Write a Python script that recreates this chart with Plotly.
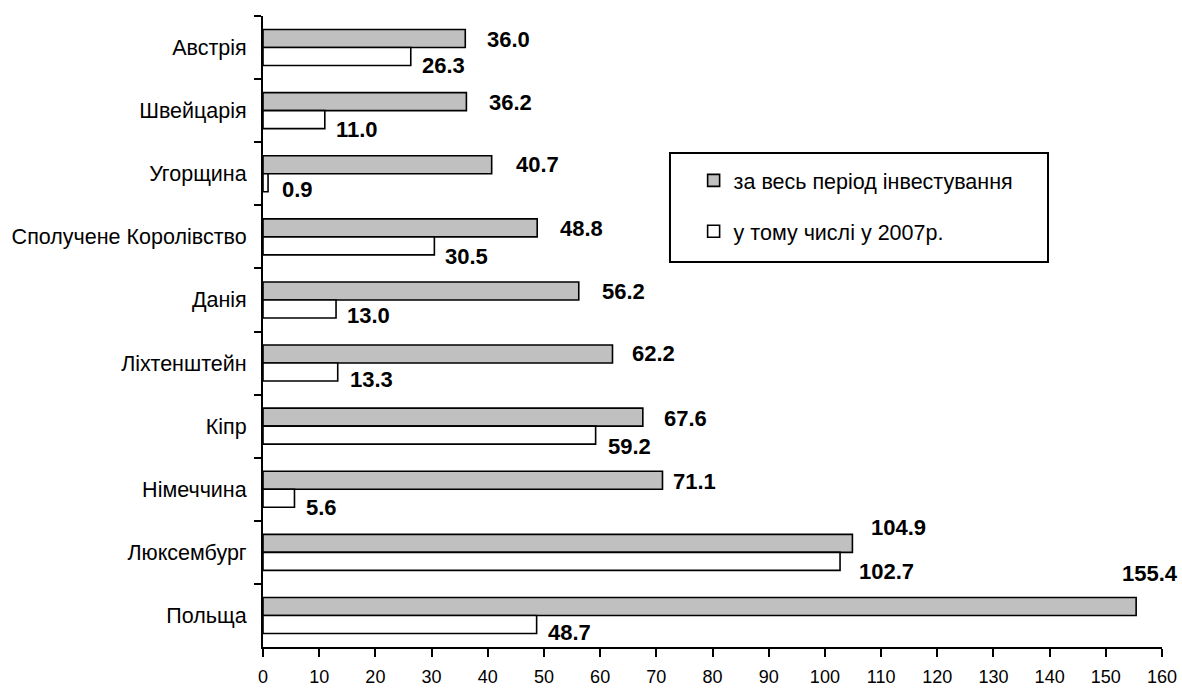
import plotly.graph_objects as go

countries = ["Австрія", "Швейцарія", "Угорщина", "Сполучене Королівство", "Данія",
             "Ліхтенштейн", "Кіпр", "Німеччина", "Люксембург", "Польща"]
total_period = [36.0, 36.2, 40.7, 48.8, 56.2, 62.2, 67.6, 71.1, 104.9, 155.4]
year_2007 = [26.3, 11.0, 0.9, 30.5, 13.0, 13.3, 59.2, 5.6, 102.7, 48.7]
series_names = ["за весь період інвестування", "у тому числі у 2007р."]
x_ticks = list(range(0, 161, 10))

# label offsets (style only, pixels): dx right of bar end, dy down from bar centre
gray_dx = [20, 21, 22, 21, 21, 18, 19, 9, 17, -16]
gray_dy = [0, 0, -1, 0, 0, -2, 0, 0, -17, -34]
white_dx = [9, 9, 12, 9, 9, 10, 10, 10, 17, 9]
white_dy = [8, 9, 6, 10, 6, 6, 10, 8, 9, 7]

FONT = "Liberation Sans, Arial, sans-serif"

fig = go.Figure()
fig.add_trace(go.Bar(y=countries, x=total_period, orientation="h", name=series_names[0],
                     marker=dict(color="#c0c0c0", line=dict(color="black", width=1.6)),
                     legendgroup="a", hoverinfo="skip"))
fig.add_trace(go.Bar(y=countries, x=year_2007, orientation="h", name=series_names[1],
                     marker=dict(color="white", line=dict(color="black", width=1.6)),
                     legendgroup="b", hoverinfo="skip"))

ann = []
for i, c in enumerate(countries):
    ann.append(dict(x=total_period[i], y=c, xref="x", yref="y", text=f"{total_period[i]:.1f}",
                    showarrow=False, xanchor="left", yanchor="middle",
                    xshift=gray_dx[i], yshift=8 - gray_dy[i],
                    font=dict(family=FONT, size=22, color="black", weight="bold")))
    ann.append(dict(x=year_2007[i], y=c, xref="x", yref="y", text=f"{year_2007[i]:.1f}",
                    showarrow=False, xanchor="left", yanchor="middle",
                    xshift=white_dx[i], yshift=-10 - white_dy[i],
                    font=dict(family=FONT, size=22, color="black", weight="bold")))

fig.update_layout(
    width=1182, height=688,
    margin=dict(l=263, r=20, t=16, b=41, autoexpand=False),
    paper_bgcolor="white", plot_bgcolor="white",
    barmode="group", bargap=0.43, bargroupgap=0,
    font=dict(family=FONT, color="black"),
    showlegend=True,
    legend=dict(x=0.479, y=0.772, xanchor="left", yanchor="top",
                bgcolor="rgba(0,0,0,0)", borderwidth=0,
                font=dict(size=21.5, color="black"), tracegroupgap=20,
                traceorder="grouped"),
    annotations=ann,
    shapes=[dict(type="rect", xref="paper", yref="paper", x0=0.4527, x1=0.8732,
                 y0=0.6101, y1=0.7829, line=dict(color="black", width=2),
                 fillcolor="rgba(0,0,0,0)", layer="below")],
)
fig.update_xaxes(range=[0, 160], tickmode="array", tickvals=x_ticks, ticktext=[str(v) for v in x_ticks],
                 showline=True, linecolor="black", linewidth=2, ticks="outside", ticklen=8,
                 tickwidth=2, tickcolor="black", showgrid=False, zeroline=False, automargin=False,
                 ticklabelstandoff=4, tickfont=dict(size=18, color="black"))
fig.update_yaxes(type="category", range=[9.5, -0.5], tickson="boundaries",
                 showline=True, linecolor="black", linewidth=2, ticks="outside", ticklen=7,
                 tickwidth=2, tickcolor="black", showgrid=False, zeroline=False, automargin=False,
                 ticklabelstandoff=10, tickfont=dict(size=21.5, color="black"))

fig.write_html("out.html", config={"displayModeBar": False, "staticPlot": True},
               post_script="document.body.style.margin='0';document.body.style.overflow='hidden';")
